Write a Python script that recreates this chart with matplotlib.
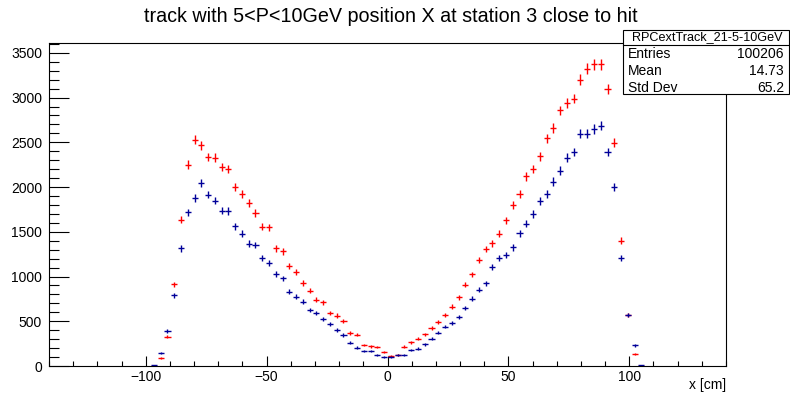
import numpy as np
import matplotlib.pyplot as plt
from matplotlib.patches import Rectangle
from matplotlib.lines import Line2D
from matplotlib.ticker import MultipleLocator

plt.rcParams['font.family'] = ['Liberation Sans', 'DejaVu Sans']

# histogram binning (100 bins from -140 to 140 cm)
x_lo, x_hi, n_bins = -140.0, 140.0, 100
first_bin = 15  # index of first filled bin

# counts per bin, starting at first_bin
red_counts = [3, 93, 329, 911, 1636, 2250, 2530, 2466, 2335, 2328,
              2223, 2204, 1999, 1924, 1823, 1711, 1558, 1550, 1315, 1281,
              1117, 1054, 927, 841, 743, 714, 590, 564, 504, 370,
              351, 235, 221, 213, 155, 110, 120, 216, 265, 306,
              355, 426, 493, 568, 665, 770, 908, 1023, 1181, 1308,
              1371, 1476, 1628, 1797, 1920, 2118, 2204, 2342, 2548, 2660,
              2858, 2940, 2989, 3202, 3325, 3370, 3370, 3101, 2496, 1401,
              568, 138, 5]
blue_counts = [8, 149, 389, 792, 1315, 1718, 1875, 2048, 1916, 1849,
               1737, 1730, 1561, 1479, 1367, 1350, 1203, 1151, 1028, 979,
               829, 773, 717, 628, 594, 523, 467, 400, 347, 261,
               205, 168, 164, 120, 101, 105, 120, 123, 179, 194,
               243, 306, 373, 441, 478, 546, 647, 751, 852, 923,
               1102, 1210, 1241, 1326, 1483, 1588, 1700, 1846, 1920, 2062,
               2185, 2328, 2391, 2597, 2597, 2649, 2686, 2391, 1998, 1210,
               568, 232, 8]

hist_name = "RPCextTrack_21-5-10GeV"
stat_labels = ["Entries", "Mean", "Std Dev"]
stat_values = ["100206", "14.73", "65.2"]
title = "track with 5<P<10GeV position X at station 3 close to hit"

W, H = 790, 399
fig = plt.figure(figsize=(W / 100, H / 100), dpi=100)

def fx(px):
    return px / W

def fy(py):
    return 1 - py / H

ax = fig.add_axes([fx(49), fy(366), fx(726) - fx(49), fy(43) - fy(366)])

edges = np.linspace(x_lo, x_hi, n_bins + 1)
centers = 0.5 * (edges[:-1] + edges[1:])
bw = edges[1] - edges[0]

red = np.array(red_counts, dtype=float)
blue = np.array(blue_counts, dtype=float)
xr = centers[first_bin:first_bin + len(red)]
xb = centers[first_bin:first_bin + len(blue)]

ax.errorbar(xr, red, xerr=bw * 0.45, yerr=np.sqrt(red), fmt='none',
            ecolor='#ff0000', elinewidth=1.0)
ax.errorbar(xb, blue, xerr=bw * 0.45, yerr=np.sqrt(blue), fmt='none',
            ecolor='#000099', elinewidth=1.0)

ax.set_xlim(x_lo, x_hi)
ax.set_ylim(0, 3610)

ax.xaxis.set_major_locator(MultipleLocator(50))
ax.xaxis.set_minor_locator(MultipleLocator(10))
ax.yaxis.set_major_locator(MultipleLocator(500))
ax.yaxis.set_minor_locator(MultipleLocator(100))
ax.tick_params(axis='x', which='major', direction='in', length=7.0, width=0.8,
               labelsize=10, pad=3)
ax.tick_params(axis='x', which='minor', direction='in', length=3.4, width=0.8)
ax.tick_params(axis='y', which='major', direction='in', length=14.4, width=0.8,
               labelsize=10, pad=5)
ax.tick_params(axis='y', which='minor', direction='in', length=7.2, width=0.8)
for s in ax.spines.values():
    s.set_linewidth(0.8)

fig.text(fx(726), fy(385), "x [cm]", ha='right', va='center', fontsize=10)
fig.text(fx(391), fy(17), title, ha='center', va='center', fontsize=14.2)

# stat box
box = Rectangle((fx(623), fy(94)), fx(789) - fx(623), fy(30) - fy(94),
                transform=fig.transFigure, facecolor='white', edgecolor='black',
                linewidth=0.8, zorder=5)
fig.add_artist(box)
fig.add_artist(Line2D([fx(623), fx(789)], [fy(45), fy(45)],
                      transform=fig.transFigure, color='black', linewidth=0.8, zorder=6))
fig.text(fx(707), fy(37.5), hist_name, ha='center', va='center', fontsize=9.1, zorder=7)
for i, (lab, val) in enumerate(zip(stat_labels, stat_values)):
    yy = fy(54.5 + i * 16.7)
    fig.text(fx(628), yy, lab, ha='left', va='center', fontsize=10, zorder=7)
    fig.text(fx(784), yy, val, ha='right', va='center', fontsize=10, zorder=7)

fig.savefig("out.png", dpi=100)
